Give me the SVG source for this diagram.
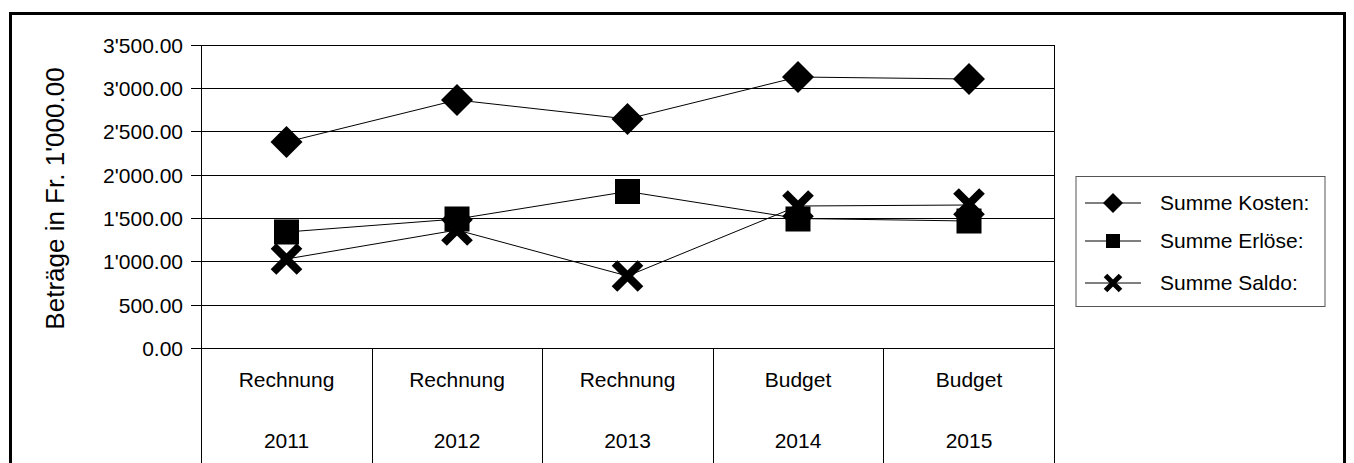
<svg xmlns="http://www.w3.org/2000/svg" width="1354" height="463" viewBox="0 0 1354 463">
<style>
text{font-family:"Liberation Sans",Arial,sans-serif;fill:#000}
.t{font-size:21px}
.yl{font-size:21px;text-anchor:end}
.cl{font-size:21px;text-anchor:middle}
.grid{stroke:#000;stroke-width:1;fill:none}
.ser{stroke:#000;stroke-width:1;fill:none}
.x{stroke:#000;stroke-width:8;fill:none}
</style>
<defs>
<path id="dia" d="M0,-16 L16,0 L0,16 L-16,0 Z" fill="#000"/>
<rect id="sq" x="-12.5" y="-12.5" width="25" height="25" fill="#000"/>
<path id="xm" d="M-13,-13 L13,13 M13,-13 L-13,13" class="x"/>
<path id="dia-s" d="M0,-10 L10,0 L0,10 L-10,0 Z" fill="#000"/>
<rect id="sq-s" x="-7" y="-7" width="14" height="14" fill="#000"/>
<path id="xm-s" d="M-7.5,-7.5 L7.5,7.5 M7.5,-7.5 L-7.5,7.5" stroke="#000" stroke-width="5" fill="none"/>
</defs>
<rect x="0" y="0" width="1354" height="463" fill="#fff"/>
<rect id="frame" x="10.5" y="13.5" width="1334" height="500" fill="none" stroke="#000" stroke-width="3"/>

<g id="axes">
<g class="grid">
<line x1="191" y1="45.5" x2="1054" y2="45.5"/>
<line x1="191" y1="88.5" x2="1054" y2="88.5"/>
<line x1="191" y1="131.5" x2="1054" y2="131.5"/>
<line x1="191" y1="175.5" x2="1054" y2="175.5"/>
<line x1="191" y1="218.5" x2="1054" y2="218.5"/>
<line x1="191" y1="261.5" x2="1054" y2="261.5"/>
<line x1="191" y1="305.5" x2="1054" y2="305.5"/>
<line x1="191" y1="348.5" x2="1054" y2="348.5"/>
<line x1="201.5" y1="45" x2="201.5" y2="463"/>
<line x1="1054.5" y1="45" x2="1054.5" y2="463"/>
<line x1="372.5" y1="348" x2="372.5" y2="463"/>
<line x1="542.5" y1="348" x2="542.5" y2="463"/>
<line x1="713.5" y1="348" x2="713.5" y2="463"/>
<line x1="883.5" y1="348" x2="883.5" y2="463"/>
</g>
<text class="yl" x="183" y="53">3'500.00</text>
<text class="yl" x="183" y="96">3'000.00</text>
<text class="yl" x="183" y="139">2'500.00</text>
<text class="yl" x="183" y="183">2'000.00</text>
<text class="yl" x="183" y="226">1'500.00</text>
<text class="yl" x="183" y="269">1'000.00</text>
<text class="yl" x="183" y="313">500.00</text>
<text class="yl" x="183" y="356">0.00</text>
<text transform="translate(63.5,198.5) rotate(-90)" font-size="26" text-anchor="middle">Beträge in Fr. 1'000.00</text>
<text class="cl" x="286.5" y="387">Rechnung</text>
<text class="cl" x="457" y="387">Rechnung</text>
<text class="cl" x="627.5" y="387">Rechnung</text>
<text class="cl" x="798" y="387">Budget</text>
<text class="cl" x="969" y="387">Budget</text>
<text class="cl" x="286.5" y="448">2011</text>
<text class="cl" x="457" y="448">2012</text>
<text class="cl" x="627.5" y="448">2013</text>
<text class="cl" x="798" y="448">2014</text>
<text class="cl" x="969" y="448">2015</text>
</g>

<g id="connectors">
<polyline class="ser" points="286.5,142 457,100 627.5,119 798,77 969,79"/>
<polyline class="ser" points="286.5,232 457,219 627.5,191.5 798,218.5 969,221"/>
<polyline class="ser" points="286.5,259 457,230 627.5,276 798,206 969,205"/>
</g>

<g id="series-kosten">
<use href="#dia" x="286.5" y="142"/>
<use href="#dia" x="457" y="100"/>
<use href="#dia" x="627.5" y="119"/>
<use href="#dia" x="798" y="77"/>
<use href="#dia" x="969" y="79"/>
</g>
<g id="series-erloese">
<use href="#sq" x="286.5" y="232"/>
<use href="#sq" x="457" y="219"/>
<use href="#sq" x="627.5" y="191.5"/>
<use href="#sq" x="798" y="219"/>
<use href="#sq" x="969" y="221"/>
</g>
<g id="series-saldo">
<use href="#xm" x="286.5" y="259"/>
<use href="#xm" x="457" y="230"/>
<use href="#xm" x="627.5" y="276"/>
<use href="#xm" x="798" y="206"/>
<use href="#xm" x="969" y="204"/>
</g>

<g id="legend">
<rect x="1076" y="176.5" width="249" height="130" fill="#fff" stroke="#555" stroke-width="1"/>
<line x1="1085" y1="203" x2="1141" y2="203" stroke="#000"/>
<use href="#dia-s" x="1113" y="203"/>
<text class="t" x="1160" y="210">Summe Kosten:</text>
<line x1="1085" y1="241" x2="1141" y2="241" stroke="#000"/>
<use href="#sq-s" x="1113" y="241"/>
<text class="t" x="1160" y="248">Summe Erlöse:</text>
<line x1="1085" y1="283" x2="1141" y2="283" stroke="#000"/>
<use href="#xm-s" x="1113" y="283"/>
<text class="t" x="1160" y="290">Summe Saldo:</text>
</g>
</svg>
